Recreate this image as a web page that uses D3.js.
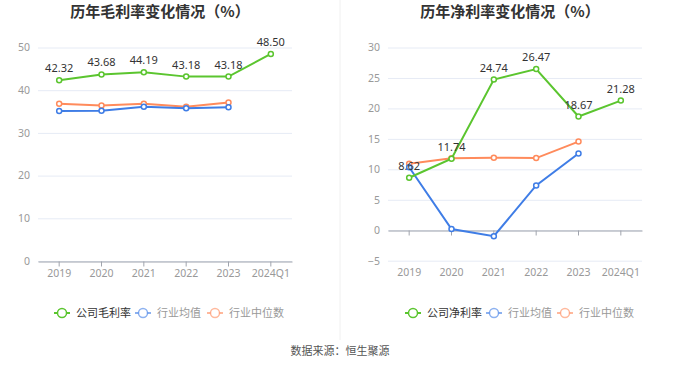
<!DOCTYPE html>
<html><head><meta charset="utf-8">
<script src="https://cdn.jsdelivr.net/npm/d3@7"></script>
<style>
body{margin:0;background:#fff;}
svg{display:block;font-family:"Noto Sans CJK SC","Noto Sans",sans-serif;}
</style></head>
<body><svg id="c" width="680" height="367"></svg>
<script>
const categories = ["2019","2020","2021","2022","2023","2024Q1"];
const grossCompany = [42.32, 43.68, 44.19, 43.18, 43.18, 48.50];
const grossIndustryAvg = [35.1, 35.2, 36.1, 35.8, 36.0, null];
const grossIndustryMedian = [36.8, 36.4, 36.8, 36.1, 37.1, null];
const netCompany = [8.62, 11.74, 24.74, 26.47, 18.67, 21.28];
const netIndustryAvg = [10.35, 0.2, -0.98, 7.35, 12.6, null];
const netIndustryMedian = [10.9, 11.8, 11.9, 11.85, 14.55, null];
const grossTicks = [0,10,20,30,40,50];
const netTicks = [-5,0,5,10,15,20,25,30];

const GREEN="#5bc52f", BLUE="#3f7de6", ORANGE="#ff8b5c";
const svg = d3.select("#c");

svg.append("line").attr("x1",340).attr("x2",340).attr("y1",0).attr("y2",340)
  .attr("stroke","#f0f0f0").attr("stroke-width",1);

function panel(cfg){
  const g = svg.append("g");
  g.append("text").attr("x",cfg.titleX).attr("y",17).attr("text-anchor","middle")
    .attr("font-size",15).attr("font-weight","bold").attr("fill","#333").text(cfg.title);
  const x = d3.scaleBand().domain(categories).range([cfg.x0,cfg.x1]);
  const y = d3.scaleLinear().domain(cfg.domain).range([cfg.yb,cfg.yt]);
  // grid
  g.selectAll(".grid").data(cfg.ticks).enter().append("line")
    .attr("x1",cfg.x0).attr("x2",cfg.x1).attr("y1",d=>y(d)+0.5).attr("y2",d=>y(d)+0.5)
    .attr("stroke","#e6ebf5").attr("stroke-width",1);
  // y labels
  const ya = g.append("g").attr("transform",`translate(${cfg.x0-8},0)`)
    .call(d3.axisLeft(y).tickValues(cfg.ticks).tickSize(0).tickPadding(0));
  ya.select(".domain").remove();
  ya.selectAll("text").attr("fill","#999").attr("font-size",10.5)
    .attr("font-family","'Noto Sans',sans-serif");
  // x axis at zero
  const xa = g.append("g").attr("transform",`translate(0,${Math.round(y(0))+0.5})`)
    .call(d3.axisBottom(x).tickSizeOuter(0).tickSizeInner(5).tickPadding(3));
  xa.select(".domain").attr("stroke","#a0a4ad");
  xa.selectAll(".tick line").attr("stroke","#a0a4ad");
  xa.selectAll("text").attr("fill","#999").attr("font-size",10.5)
    .attr("font-family","'Noto Sans',sans-serif")
    .attr("transform",`translate(0,${cfg.yb - y(0)})`);
  const line = d3.line().defined(d=>d.v!=null).x(d=>x(d.c)+x.bandwidth()/2).y(d=>y(d.v));
  const series = [
    {vals:cfg.median,color:ORANGE},
    {vals:cfg.avg,color:BLUE},
    {vals:cfg.company,color:GREEN,labels:true}
  ];
  series.forEach(s=>{
    const data = categories.map((c,i)=>({c,v:s.vals[i]}));
    g.append("path").datum(data).attr("d",line).attr("fill","none")
      .attr("stroke",s.color).attr("stroke-width",2);
    g.selectAll(null).data(data.filter(d=>d.v!=null)).enter().append("circle")
      .attr("cx",d=>x(d.c)+x.bandwidth()/2).attr("cy",d=>y(d.v)).attr("r",2.5)
      .attr("fill","#fff").attr("stroke",s.color).attr("stroke-width",1.5);
    s.data=data;
  });
  g.selectAll(null).data(series[2].data).enter().append("text")
    .attr("x",d=>x(d.c)+x.bandwidth()/2).attr("y",d=>y(d.v)-8)
    .attr("text-anchor","middle").attr("font-size",11).attr("fill","#333")
    .attr("font-family","'Noto Sans',sans-serif")
    .text(d=>d.v.toFixed(2));
  // legend
  const leg = g.append("g");
  const items = [
    {name:cfg.legendName,color:GREEN,text:"#333",op:1},
    {name:"行业均值",color:BLUE,text:"#999",op:0.6},
    {name:"行业中位数",color:ORANGE,text:"#999",op:0.6}
  ];
  items.forEach((it,i)=>{
    const lx = cfg.legX[i];
    const gi = leg.append("g").attr("opacity",1);
    gi.append("line").attr("x1",lx).attr("x2",lx+16).attr("y1",313).attr("y2",313)
      .attr("stroke",it.color).attr("stroke-width",2).attr("stroke-opacity",it.op);
    gi.append("circle").attr("cx",lx+8).attr("cy",313).attr("r",4.5)
      .attr("fill","#fff").attr("stroke",it.color).attr("stroke-width",1.5).attr("stroke-opacity",it.op);
    gi.append("text").attr("x",lx+22).attr("y",317).attr("font-size",11)
      .attr("fill",it.text).text(it.name);
  });
}

panel({title:"历年毛利率变化情况（%）",titleX:160,x0:38,x1:292,yt:47.5,yb:261,domain:[0,50],
  ticks:grossTicks,company:grossCompany,avg:grossIndustryAvg,median:grossIndustryMedian,
  legendName:"公司毛利率",legX:[54,135,207]});
panel({title:"历年净利率变化情况（%）",titleX:510,x0:388,x1:642,yt:47.5,yb:260.7,domain:[-5,30],
  ticks:netTicks,company:netCompany,avg:netIndustryAvg,median:netIndustryMedian,
  legendName:"公司净利率",legX:[405,486,557]});

svg.append("text").attr("x",340).attr("y",355).attr("text-anchor","middle")
  .attr("font-size",11).attr("fill","#555").text("数据来源：恒生聚源");
</script></body></html>
